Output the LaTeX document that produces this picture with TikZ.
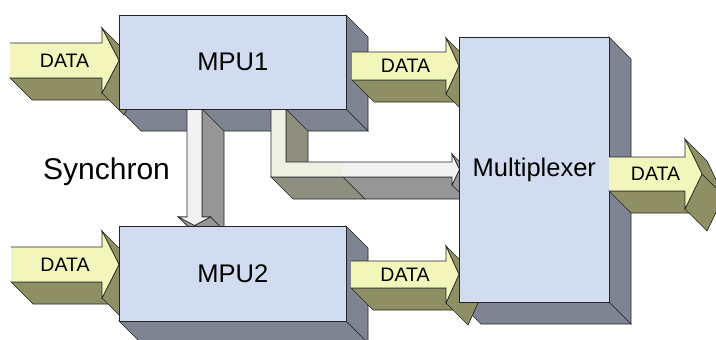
\documentclass[tikz,border=0pt]{standalone}
\usepackage{fontspec}
\setmainfont{Liberation Sans}

\definecolor{cBlockFront}{RGB}{209,220,240}
\definecolor{cBlockSide}{RGB}{127,132,146}
\definecolor{cDataFront}{RGB}{243,246,186}
\definecolor{cDataSide}{RGB}{143,143,101}
\definecolor{cSyncFront}{RGB}{242,242,242}
\definecolor{cSyncSide}{RGB}{150,150,150}
\definecolor{cLinkFront}{RGB}{238,240,226}
\definecolor{cLinkSide}{RGB}{143,143,128}

\tikzset{
  outline/.style={draw=black!85, line width=0.7pt, line join=miter},
  extrude/.style={outline},
  blockface/.style={outline, fill=cBlockFront, inner sep=0pt, anchor=north west,
                    font=\fontsize{25.5}{30}\selectfont},
  blockside/.style={outline, fill=cBlockSide},
  datalabel/.style={inner sep=0pt, font=\fontsize{19.5}{23}\selectfont},
}

% depth of the 3-D extrusion (down and to the right)
\def\dep{22}

% front-facing faces of a block whose front face is (#1,#2)-(#3,#4)
\newcommand\blocksides[4]{%
  \filldraw[blockside] (#3,#2) -- ({#3+\dep},{#2+\dep}) -- ({#3+\dep},{#4+\dep}) -- (#3,#4) -- cycle;
  \filldraw[blockside] (#1,#4) -- (#3,#4) -- ({#3+\dep},{#4+\dep}) -- ({#1+\dep},{#4+\dep}) -- cycle;
}

% extruded DATA arrow pointing right
% #1 tail x, #2 head base x, #3 tip x, #4 shaft top, #5 shaft bottom,
% #6 head top, #7 head bottom, #8 label node name
\newcommand\dataarrow[8]{%
  \pgfmathsetmacro\arrmid{(#4+#5)/2}%
  \filldraw[extrude, fill=cDataSide] (#1,#5) -- (#2,#5) -- ({#2+\dep},{#5+\dep}) -- ({#1+\dep},{#5+\dep}) -- cycle;
  \filldraw[extrude, fill=cDataSide] (#2,#7) -- (#3,\arrmid) -- ({#3+\dep},{\arrmid+\dep}) -- ({#2+\dep},{#7+\dep}) -- cycle;
  \filldraw[extrude, fill=cDataSide] (#3,\arrmid) -- (#2,#6) -- ({#2+\dep},{#6+\dep}) -- ({#3+\dep},{\arrmid+\dep}) -- cycle;
  \fill[cDataFront] (#1,#4) -- (#2,#4) -- (#2,#6) -- (#3,\arrmid) -- (#2,#7) -- (#2,#5) -- (#1,#5) -- cycle;
  \draw[outline] (#1,#4) -- (#2,#4) -- (#2,#6) -- (#3,\arrmid) -- (#2,#7) -- (#2,#5) -- (#1,#5);
  \node[datalabel] (#8) at ({(#1+#3)/2},\arrmid) {DATA};
}

\begin{document}
\begin{tikzpicture}[x=1pt,y=-1pt]
\useasboundingbox (0,0) rectangle (716,340);
\clip (0,0) rectangle (716,340);

% side faces of the three blocks
\blocksides{119}{15}{346}{109}
\blocksides{119}{226}{346}{321}
\blocksides{459}{37}{609}{302}

% data inputs of the two processors
\dataarrow{10}{102}{119}{43}{78}{28}{93}{dataInA}
\dataarrow{11}{102}{119}{247}{282}{231}{298}{dataInB}

% synchronisation arrow MPU1 -> MPU2
\filldraw[extrude, fill=cSyncSide] (202,109) -- (202,217) -- (224,239) -- (224,131) -- cycle;
\filldraw[extrude, fill=cSyncSide] (202,217) -- (210.5,217) -- (232.5,239) -- (224,239) -- cycle;
\filldraw[extrude, fill=cSyncSide] (210.5,217) -- (194.5,225.5) -- (216.5,247.5) -- (232.5,239) -- cycle;
\filldraw[extrude, fill=cSyncSide] (194.5,225.5) -- (178.5,217) -- (200.5,239) -- (216.5,247.5) -- cycle;
\filldraw[extrude, fill=cSyncSide] (178.5,217) -- (187,217) -- (209,239) -- (200.5,239) -- cycle;
\filldraw[outline, fill=cSyncFront] (187,109) -- (187,217) -- (178.5,217) -- (194.5,225.5)
  -- (210.5,217) -- (202,217) -- (202,109) -- cycle;
\node[anchor=base west, inner sep=0pt, font=\fontsize{30}{36}\selectfont] (sync) at (43,179) {Synchron};

% angled link MPU1 -> Multiplexer
\filldraw[extrude, fill=cLinkSide] (286,109) -- (286,162) -- (308,184) -- (308,131) -- cycle;
\filldraw[extrude, fill=cLinkSide] (271,177) -- (343,177) -- (365,199) -- (293,199) -- cycle;
\filldraw[extrude, fill=cSyncSide] (343,177) -- (452,177) -- (474,199) -- (365,199) -- cycle;
\filldraw[extrude, fill=cSyncSide] (452,185) -- (459.5,169.5) -- (481.5,191.5) -- (474,207) -- cycle;
\filldraw[extrude, fill=cSyncSide] (459.5,169.5) -- (452,154) -- (474,176) -- (481.5,191.5) -- cycle;
\begin{scope}
  \clip (271,109) -- (271,177) -- (452,177) -- (452,185) -- (459.5,169.5) -- (452,154)
    -- (452,162) -- (286,162) -- (286,109) -- cycle;
  \fill[cLinkFront] (260,100) rectangle (343,200);
  \fill[cSyncFront] (343,100) rectangle (470,200);
\end{scope}
\draw[outline] (271,109) -- (271,177) -- (452,177) -- (452,185) -- (459.5,169.5) -- (452,154)
  -- (452,162) -- (286,162) -- (286,109) -- cycle;

% data from the processors to the multiplexer
\dataarrow{352}{446}{459}{52}{80}{38}{94}{dataA}
\dataarrow{351}{446}{459}{261}{288}{246}{303}{dataB}

% front faces of the blocks
\node[blockface, minimum width=227pt, minimum height=94pt] (mpu1) at (119,15) {MPU1};
\node[blockface, minimum width=227pt, minimum height=95pt] (mpu2) at (119,226) {MPU2};
\node[blockface, minimum width=150pt, minimum height=265pt] (mux) at (459,37) {Multiplexer};

% multiplexer output
\dataarrow{609}{685}{702}{157}{191}{139}{209}{dataOut}
\end{tikzpicture}
\end{document}
